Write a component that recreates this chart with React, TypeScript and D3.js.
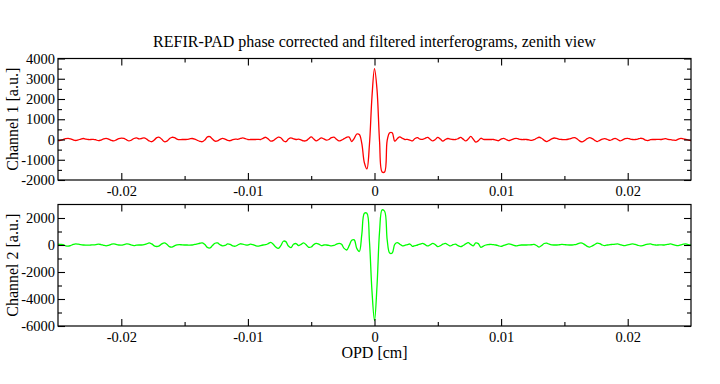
import React, { useRef, useEffect } from "react";
import * as d3 from "d3";

const WIDTH = 720;
const HEIGHT = 384;
const PLOT_LEFT = 58;
const PLOT_RIGHT = 691;
const TOP_PANEL = { top: 58.5, bottom: 180 };
const BOTTOM_PANEL = { top: 204.5, bottom: 326 };
const FONT = "'Liberation Serif', 'Times New Roman', Times, serif";

// interferogram sampling grid (cm)
const OPD_START = -0.025;
const OPD_STEP = 0.0002;
const OPD_DOMAIN = [-0.025, 0.025];

const xTicks = [-0.02, -0.01, 0, 0.01, 0.02];
const xMinorTicks = [-0.015, -0.005, 0.005, 0.015];

const ch1Domain = [-2000, 4000];
const ch1Ticks = [-2000, -1000, 0, 1000, 2000, 3000, 4000];
const ch1MinorTicks = [-1500, -500, 500, 1500, 2500, 3500];

const ch2Domain = [-6000, 3000];
const ch2Ticks = [-6000, -4000, -2000, 0, 2000];
const ch2MinorTicks = [-5000, -3000, -1000, 1000];

// Channel 1 [a.u.], one value per OPD sample
const channel1 = [
  -60, -40, 0, 40, 60, 30, -20, -50, -20, 20,
  50, 20, 0, 0, 10, -20, -60, -30, 30, 60,
  20, -40, -70, -20, 40, 70, 50, -10, -70, -30,
  50, 80, 30, 50, 80, 20, -70, -110, -30, 90,
  110, 10, -110, -80, 40, 110, 90, 20, -10, 0,
  0, 10, 30, 50, 20, -40, -90, -110, -20, 130,
  140, 20, -80, -70, 10, 60, 20, -40, -60, -10,
  20, 10, 50, 80, 40, 0, 0, 0, 0, 10,
  0, 60, 110, 30, -80, -60, 40, 120, 90, -60,
  -110, 20, 80, 30, 0, 20, -20, -70, -60, 40,
  130, 30, -70, 0, 80, 30, -30, 0, 90, 120,
  10, -70, -30, 40, 110, 120, -100, 60, 270, 250,
  -200, -1150, -1450, -250, 2100, 3500, 2450, -100, -1600, -1600,
  -50, 330, 330, -80, 40, 130, 60, 0, 10, -30,
  -70, 50, 90, 20, 10, 60, 100, 10, -70, 0,
  100, 20, -80, 0, 50, 20, 0, 0, 40, 100,
  20, -70, 20, 150, 20, -130, -60, 60, 10, 0,
  0, 0, 0, -30, -60, 20, 60, 0, -55, -20,
  30, 60, 20, 0, 0, 0, -20, -40, -10, 60,
  110, 60, -40, -100, -40, 30, 75, 50, 10, 0,
  -10, 0, 30, 70, 90, 30, -70, -120, -50, 40,
  90, 40, -40, -100, -40, 20, 40, 0, -40, 10,
  60, 0, -70, -20, 40, 60, 20, 0, 0, 20,
  60, 40, -30, -50, -10, 0, 0, 10, 0, 20,
  40, 10, -10, -30, -40, 20, 60, 30, 0, -30,
  -50,
];

// Channel 2 [a.u.], one value per OPD sample
const channel2 = [
  60, 40, 20, -60, -90, -40, 40, 90, 60, 20,
  0, -10, -10, 0, 10, 30, 60, 30, -20, -60,
  -20, 50, 90, 40, 0, -10, 30, 80, 70, 0,
  -40, -10, 0, 0, 20, 80, 160, 80, -60, -110,
  -60, 80, 160, 60, -120, -150, -60, 10, 30, 10,
  0, 0, -10, 0, 40, 80, 130, 160, 40, -180,
  -220, -40, 130, 150, 20, -60, -30, 80, 40, -60,
  -90, 0, 90, 60, 10, 0, 60, 20, -50, -90,
  -40, 0, 20, 100, 190, 60, -150, -250, -50, 280,
  250, -80, -190, 50, 110, -40, 50, 160, 20, -170,
  -150, 30, 120, 60, -40, 0, 0, -30, -60, -30,
  60, 120, 50, -250, -370, -50, 350, 380, -250, -480,
  800, 2350, 2350, 300, -3400, -5600, -3000, 1000, 2600, 2500,
  400, -600, -600, 50, 170, 60, -60, -20, 30, 70,
  -100, -40, 0, 60, 120, 30, -70, 20, 120, 30,
  -120, -50, 60, 120, 20, -70, 20, 70, -50, -120,
  -40, 80, 170, 50, -60, 150, 100, -170, -80, 0,
  30, 50, 20, 0, -60, -100, -30, 30, 80, 50,
  -30, -70, -20, 0, 0, 0, 10, 20, 40, -40,
  -150, -40, 110, 140, 60, 10, 0, 0, 20, 40,
  30, 10, 0, 0, 20, 70, 140, 140, 30, -100,
  -150, -70, 40, 140, 100, 0, -40, 0, 30, 40,
  60, 80, 30, -30, -40, 10, 50, 80, 40, -20,
  -70, -40, 20, 60, 80, 30, 0, 0, 10, 0,
  20, 50, 80, 20, -30, -40, 10, 60, 80, 30,
  0,
];

type Panel = {
  values: number[];
  domain: number[];
  ticks: number[];
  minor: number[];
  color: string;
  label: string;
  top: number;
  bottom: number;
};

function drawPanel(svg: d3.Selection<SVGSVGElement, unknown, null, undefined>, p: Panel) {
  const x = d3.scaleLinear().domain(OPD_DOMAIN).range([PLOT_LEFT, PLOT_RIGHT]);
  const y = d3.scaleLinear().domain(p.domain).range([p.bottom, p.top]);
  const g = svg.append("g");

  // trace
  const line = d3
    .line<number>()
    .x((_, i) => x(OPD_START + i * OPD_STEP))
    .y((d) => y(d))
    .curve(d3.curveCatmullRom.alpha(0.5));
  g.append("path")
    .datum(p.values)
    .attr("fill", "none")
    .attr("stroke", p.color)
    .attr("stroke-width", 1.3)
    .attr("d", line);

  // frame
  g.append("rect")
    .attr("x", PLOT_LEFT)
    .attr("y", p.top)
    .attr("width", PLOT_RIGHT - PLOT_LEFT)
    .attr("height", p.bottom - p.top)
    .attr("fill", "none")
    .attr("stroke", "#000")
    .attr("stroke-width", 1.2);

  const fmt = (d: d3.NumberValue) => String(d);
  const axes: [string, any][] = [
    [`translate(0,${p.bottom})`, d3.axisBottom(x).tickValues(xTicks).tickSize(-7).tickPadding(5.5).tickFormat(fmt)],
    [`translate(0,${p.bottom})`, d3.axisBottom(x).tickValues(xMinorTicks).tickSize(-4).tickFormat(() => "")],
    [`translate(0,${p.top})`, d3.axisTop(x).tickValues(xTicks).tickSize(-7).tickFormat(() => "")],
    [`translate(0,${p.top})`, d3.axisTop(x).tickValues(xMinorTicks).tickSize(-4).tickFormat(() => "")],
    [`translate(${PLOT_LEFT},0)`, d3.axisLeft(y).tickValues(p.ticks).tickSize(-7).tickPadding(3).tickFormat(fmt)],
    [`translate(${PLOT_LEFT},0)`, d3.axisLeft(y).tickValues(p.minor).tickSize(-4).tickFormat(() => "")],
    [`translate(${PLOT_RIGHT},0)`, d3.axisRight(y).tickValues(p.ticks).tickSize(-7).tickFormat(() => "")],
    [`translate(${PLOT_RIGHT},0)`, d3.axisRight(y).tickValues(p.minor).tickSize(-4).tickFormat(() => "")],
  ];
  axes.forEach(([tr, ax]) => {
    const a = g.append("g").attr("transform", tr).call(ax.tickSizeOuter(0));
    a.select(".domain").remove();
    a.selectAll("line").attr("stroke", "#000").attr("stroke-width", 1.1);
    a.selectAll("text")
      .attr("fill", "#000")
      .style("font-family", FONT)
      .style("font-size", "14.5px");
  });

  svg
    .append("text")
    .attr("transform", `translate(17.5,${(p.top + p.bottom) / 2}) rotate(-90)`)
    .attr("text-anchor", "middle")
    .style("font-family", FONT)
    .style("font-size", "16px")
    .text(p.label);
}

export default function App() {
  const svgRef = useRef<SVGSVGElement | null>(null);

  useEffect(() => {
    const svg = d3.select(svgRef.current as SVGSVGElement);
    svg.selectAll("*").remove();

    drawPanel(svg, {
      values: channel1,
      domain: ch1Domain,
      ticks: ch1Ticks,
      minor: ch1MinorTicks,
      color: "#ff0000",
      label: "Channel 1 [a.u.]",
      ...TOP_PANEL,
    });
    drawPanel(svg, {
      values: channel2,
      domain: ch2Domain,
      ticks: ch2Ticks,
      minor: ch2MinorTicks,
      color: "#00ff00",
      label: "Channel 2 [a.u.]",
      ...BOTTOM_PANEL,
    });

    svg
      .append("text")
      .attr("x", (PLOT_LEFT + PLOT_RIGHT) / 2)
      .attr("y", 47)
      .attr("text-anchor", "middle")
      .style("font-family", FONT)
      .style("font-size", "16px")
      .text("REFIR-PAD phase corrected and filtered interferograms, zenith view");

    svg
      .append("text")
      .attr("x", (PLOT_LEFT + PLOT_RIGHT) / 2)
      .attr("y", 358)
      .attr("text-anchor", "middle")
      .style("font-family", FONT)
      .style("font-size", "16px")
      .text("OPD [cm]");
  }, []);

  return (
    <svg
      ref={svgRef}
      width={WIDTH}
      height={HEIGHT}
      style={{ position: "absolute", left: 0, top: 0, background: "#fff" }}
    />
  );
}
